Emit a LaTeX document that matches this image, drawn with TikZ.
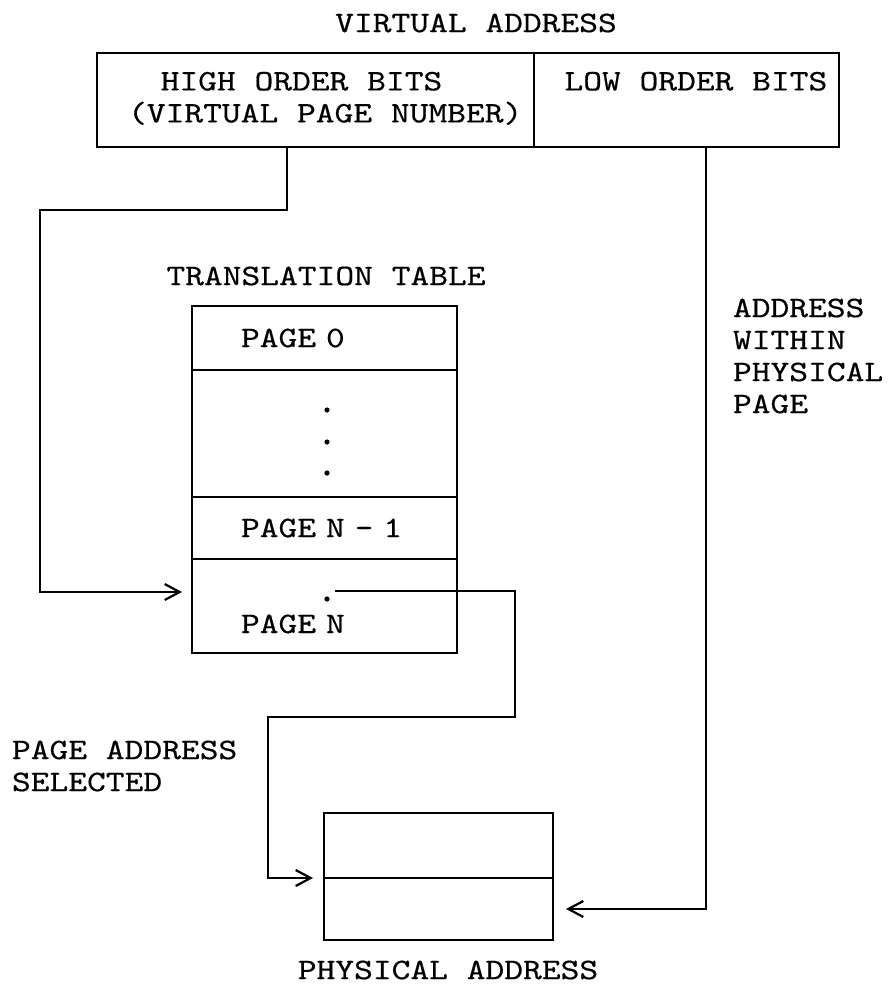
\documentclass[tikz,border=0pt]{standalone}
\usepackage{fontspec}
\usetikzlibrary{arrows.meta,positioning}
\newfontfamily\typewriter{lmmono10-regular}[Extension=.otf,FakeStretch=1.2,FakeBold=0.5]

\begin{document}
\begin{tikzpicture}[x=0.5pt, y=-0.5pt,
  every node/.style={font=\typewriter\fontsize{14.9}{16}\selectfont, inner sep=0pt, outer sep=0pt},
  cell/.style={draw, line width=1.1pt, align=center},
  row/.style={draw, line width=1.1pt, minimum width=132.5pt, text width=83.5pt, inner xsep=24.5pt, align=left},
  lbl/.style={align=left},
  arr/.style={-{Straight Barb[length=7.5pt,width=8pt]}, line width=1.1pt}
]
\useasboundingbox (0,0) rectangle (890,986);
\node (vaddr) at (476,23) {VIRTUAL ADDRESS};
\node[cell, align=left, anchor=north west, minimum width=218.5pt, minimum height=47pt] (hi) at (97,53) {\strut\hspace*{26pt}HIGH ORDER BITS\\\strut\hspace*{9.7pt}(VIRTUAL PAGE NUMBER)};
\node[cell, right=0pt of hi, minimum width=152.5pt, minimum height=47pt] (lo) {\strut\hspace*{9.4pt}LOW ORDER BITS\\\strut};
\node (ttitle) at (326,276) {TRANSLATION TABLE};
\node[row, anchor=north west, minimum height=32pt] (pg0) at (192,306) {PAGE 0};
\node[row, below=0pt of pg0, minimum height=63.5pt] (pgdots) {};
\node[row, below=0pt of pgdots, minimum height=31pt] (pgprev) {PAGE N - 1};
\node[row, below=0pt of pgprev, minimum height=47pt] (pgN) {\strut\\PAGE N};
\foreach \y in {410,442,473} \fill (327,\y) circle (1.3pt);
\node[circle, fill, minimum size=2.6pt] (seldot) at (327,599) {};
\node[cell, anchor=north west, minimum width=114.5pt, minimum height=32.5pt] (phtop) at (324,813) {};
\node[cell, below=0pt of phtop, minimum width=114.5pt, minimum height=31pt] (phbot) {};
\node (paddr) at (448,970) {PHYSICAL ADDRESS};
\node[lbl, anchor=west] (selnote) at (12,766) {PAGE ADDRESS\\SELECTED};
\node[lbl, anchor=west] (offnote) at (733,356) {ADDRESS\\WITHIN\\PHYSICAL\\PAGE};
\draw[arr, shorten >=5pt] ([xshift=-14.25pt]hi.south) |- (40,210) |- ([yshift=7pt]pgN.west);
\draw[arr, shorten >=5.5pt] ([shift={(4pt,4pt)}]seldot.center) -| (515,717) -| ([xshift=-28pt]phtop.south west) -- (phtop.south west);
\draw[arr, shorten >=6.5pt] ([xshift=9.75pt]lo.south) |- (phbot.east);
\end{tikzpicture}
\end{document}
